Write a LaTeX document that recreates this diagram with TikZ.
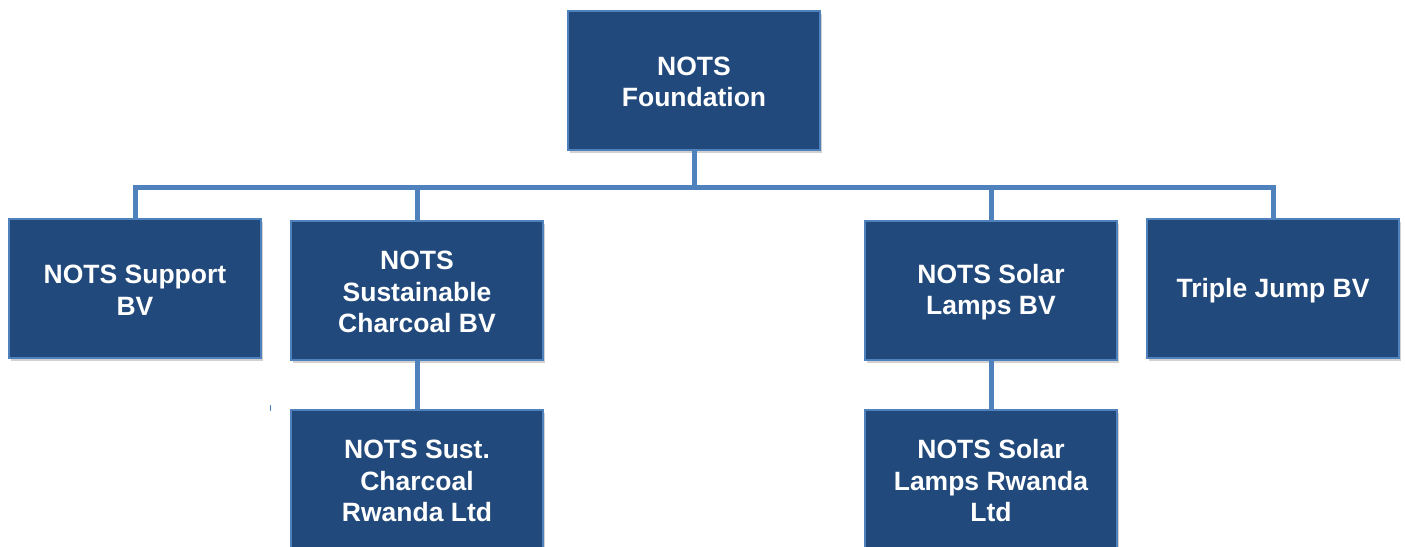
\documentclass[tikz,border=0pt]{standalone}
\usepackage{fontspec}
\setmainfont{Liberation Sans}
\usetikzlibrary{shadows}
\definecolor{boxfill}{RGB}{33,73,124}
\definecolor{boxline}{RGB}{79,129,189}
\definecolor{conn}{RGB}{79,129,189}
\tikzset{
  orgbox/.style={draw=boxline, line width=1.8pt, fill=boxfill, text=white,
    minimum width=252pt, minimum height=139pt, inner sep=0pt,
    align=center, font=\fontsize{26.5}{31.5}\selectfont\bfseries,
    drop shadow={opacity=0.3, shadow xshift=2pt, shadow yshift=-3pt, fill=black!60}},
  txt/.style={text=white, align=center, inner sep=0pt,
    font=\fontsize{26.5}{31.5}\selectfont\bfseries},
  link/.style={draw=conn, line width=5pt},
}
\begin{document}
\begin{tikzpicture}[x=1pt,y=-1pt]
\useasboundingbox (0,0) rectangle (1405,546);
\node[orgbox] (top) at (694,80.5) {};
\node[orgbox] (sup) at (135,288.5) {};
\node[orgbox] (char) at (417,290.5) {};
\node[orgbox] (solar) at (991,290.5) {};
\node[orgbox] (tj) at (1273,288.5) {};
\node[orgbox] (charR) at (417,479.5) {};
\node[orgbox] (solarR) at (991,479.5) {};
\node[txt] (topT) at (694,82) {NOTS\\Foundation};
\node[txt] (supT) at (135,290) {NOTS Support\\BV};
\node[txt] (charT) at (417,292) {NOTS\\Sustainable\\Charcoal BV};
\node[txt] (solarT) at (991,292) {NOTS Solar\\Lamps BV};
\node[txt] (tjT) at (1273,291) {Triple Jump BV};
\node[txt] (charRT) at (417,481) {NOTS Sust.\\Charcoal\\Rwanda Ltd};
\node[txt] (solarRT) at (991,481) {NOTS Solar\\Lamps Rwanda\\Ltd};
\coordinate (bus) at (694,187);
\coordinate (tickA) at (270,405);
\coordinate (tickB) at (270,411);
\draw[link] (top.south) -- (bus);
\draw[link] (bus) -| (sup.north);
\draw[link] (bus) -| (char.north);
\draw[link] (bus) -| (solar.north);
\draw[link] (bus) -| (tj.north);
\draw[link] (char.south) -- (charR.north);
\draw[link] (solar.south) -- (solarR.north);
\draw[conn, line width=1pt] (tickA) -- (tickB);
\end{tikzpicture}
\end{document}
